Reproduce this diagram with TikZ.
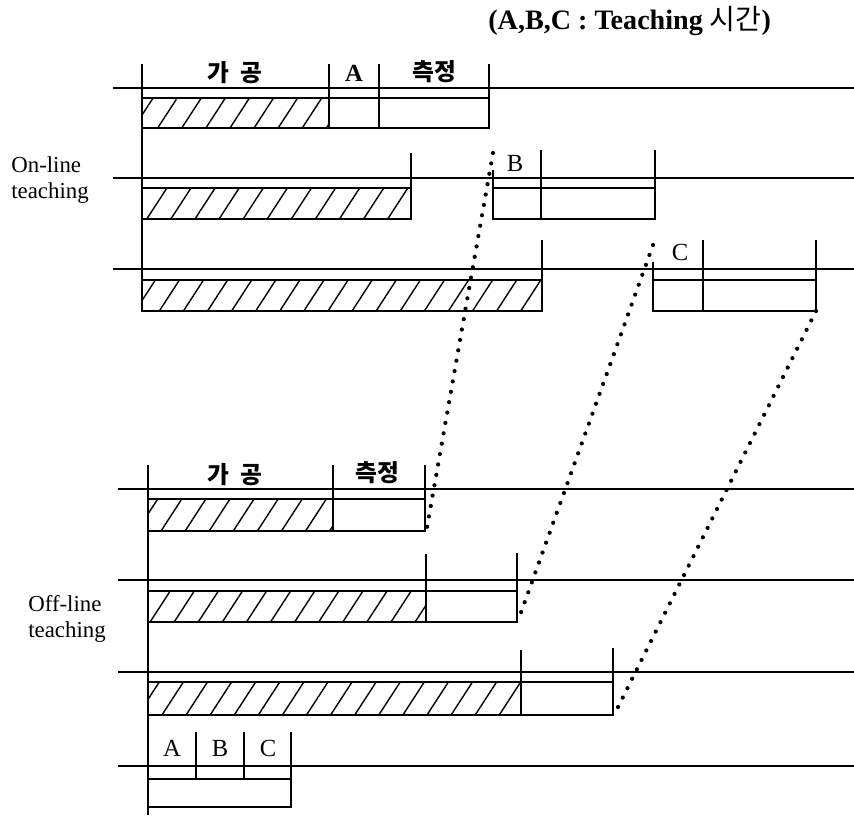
\documentclass[tikz,border=0pt]{standalone}
\usepackage{fontspec}
\setmainfont{Liberation Serif}
\newfontfamily\kor{Noto Sans CJK KR}
\usetikzlibrary{patterns.meta}

\begin{document}
\begin{tikzpicture}[x=0.02cm, y=-0.02cm,
  timeline/.style={line width=1.2pt},
  frame/.style={line width=1.2pt},
  tickline/.style={line width=1.2pt},
  work/.style={line width=1.2pt, pattern={Lines[angle=57,distance=11.5pt,line width=0.8pt]}},
  dotlink/.style={line width=2.4pt, line cap=round, dash pattern=on 0pt off 6pt},
  latin/.style={font=\fontsize{14}{16}\selectfont, inner sep=0pt},
  hangul/.style={font=\kor\bfseries\fontsize{13.5}{16}\selectfont, inner sep=0pt},
  side/.style={font=\fontsize{13}{14.8}\selectfont, align=left, anchor=west, inner sep=0pt}]
  \useasboundingbox (0,0) rectangle (854,816);

  % Legend
  \node[font=\bfseries\fontsize{16}{18}\selectfont, anchor=west, inner sep=0pt] (legend) at (488,21)
    {(A,B,C : Teaching {\kor\mdseries 시간})};

  % On-line teaching
  \node[side] (online) at (11,180) {On-line\\teaching};
  \draw[tickline] (142,64) -- (142,311);

  % row 1
  \draw[timeline] (113,88) -- (854,88);
  \draw[work] (142,98) rectangle (329,128);
  \draw[frame] (329,98) rectangle (489,128);
  \foreach \x in {329,379,489} \draw[tickline] (\x,64) -- (\x,128);
  \node[hangul] (onwork) at (235,73) {가\hspace{0.45em}공};
  \node[latin, font=\bfseries\fontsize{14}{16}\selectfont] (onA) at (354,73) {A};
  \node[hangul] (onmeas) at (434,72) {측정};

  % row 2
  \draw[timeline] (113,178) -- (854,178);
  \draw[work] (142,188) rectangle (411,219);
  \draw[tickline] (411,153) -- (411,219);
  \draw[frame] (493,188) rectangle (655,219);
  \draw[tickline] (493,170) -- (493,188);
  \foreach \x in {541,655} \draw[tickline] (\x,150) -- (\x,219);
  \node[latin] (onB) at (515,163) {B};
  \coordinate (onBstart) at (493,153);

  % row 3
  \draw[timeline] (113,269) -- (854,269);
  \draw[work] (142,280) rectangle (542,311);
  \draw[tickline] (542,240) -- (542,311);
  \draw[frame] (653,280) rectangle (816,311);
  \draw[tickline] (653,262) -- (653,280);
  \foreach \x in {703,816} \draw[tickline] (\x,240) -- (\x,311);
  \node[latin] (onC) at (680,252) {C};
  \coordinate (onCstart) at (653,245);
  \coordinate (onCend) at (816,311);

  % Off-line teaching
  \node[side] (offline) at (28,619) {Off-line\\teaching};
  \draw[tickline] (148,465) -- (148,815);

  % row 1
  \draw[timeline] (118,489) -- (854,489);
  \draw[work] (148,499) rectangle (333,531);
  \draw[frame] (333,499) rectangle (425,531);
  \foreach \x in {333,425} \draw[tickline] (\x,465) -- (\x,531);
  \node[hangul] (offwork) at (235,475) {가\hspace{0.45em}공};
  \node[hangul] (offmeas) at (377,473) {측정};
  \coordinate (offend1) at (426,533);

  % row 2
  \draw[timeline] (118,580) -- (854,580);
  \draw[work] (148,591) rectangle (426,622);
  \draw[frame] (426,591) rectangle (517,622);
  \draw[tickline] (426,554) -- (426,622);
  \draw[tickline] (517,553) -- (517,622);
  \coordinate (offend2) at (519,618);

  % row 3
  \draw[timeline] (118,672) -- (854,672);
  \draw[work] (148,682) rectangle (521,715);
  \draw[frame] (521,682) rectangle (613,715);
  \draw[tickline] (521,650) -- (521,715);
  \draw[tickline] (613,648) -- (613,715);
  \coordinate (offend3) at (615,713);

  % row 4: teaching A, B, C
  \draw[timeline] (118,766) -- (854,766);
  \draw[frame] (148,766) rectangle (291,807);
  \draw[frame] (148,779) -- (291,779);
  \foreach \x in {196,244} \draw[tickline] (\x,732) -- (\x,779);
  \draw[tickline] (291,732) -- (291,807);
  \node[latin] (offA) at (172,748) {A};
  \node[latin] (offB) at (220,748) {B};
  \node[latin] (offC) at (268,748) {C};

  % Shifted teaching time
  \draw[dotlink] (onBstart) -- (offend1);
  \draw[dotlink] (onCstart) -- (offend2);
  \draw[dotlink] (onCend) -- (offend3);
\end{tikzpicture}
\end{document}
